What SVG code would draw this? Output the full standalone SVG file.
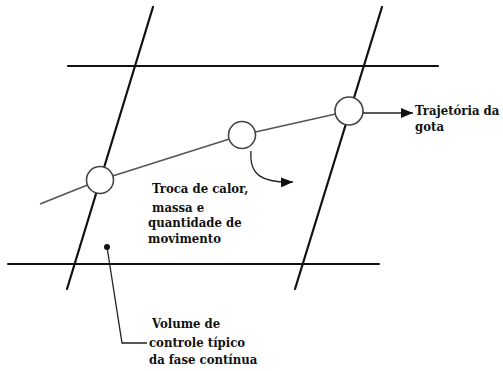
<svg xmlns="http://www.w3.org/2000/svg" width="503" height="371" viewBox="0 0 503 371">
<style>
.grid{stroke:#111;stroke-width:2.2;fill:none;stroke-linecap:round}
.traj{stroke:#555;stroke-width:1.6;fill:none}
.drop{fill:#fff;stroke:#444;stroke-width:1.6}
.lead{stroke:#222;stroke-width:1.3;fill:none}
.lbl{font-family:"DejaVu Serif Condensed","DejaVu Serif",serif;font-stretch:condensed;font-weight:bold;font-size:13px;fill:#111}
</style>
<defs>
<marker id="ah" viewBox="0 0 12 10" refX="12" refY="5" markerWidth="12" markerHeight="10" markerUnits="userSpaceOnUse" orient="auto">
<path d="M0,0 L12,5 L0,10 Z" fill="#111"/>
</marker>
</defs>
<g id="grid">
<line class="grid" x1="153" y1="7" x2="67" y2="289"/>
<line class="grid" x1="382" y1="7" x2="295" y2="289"/>
<line class="grid" x1="68" y1="66" x2="438" y2="66"/>
<line class="grid" x1="8" y1="264" x2="379" y2="264"/>
</g>
<g id="connectors">
<polyline class="traj" points="40,204 100,180 242,135 349,111"/>
<line class="lead" x1="363" y1="113" x2="413" y2="113" marker-end="url(#ah)"/>
<path class="lead" d="M251,151 C249,175 262,183 293,182" marker-end="url(#ah)"/>
<polyline class="lead" points="107,247 122,343 147,343"/>
</g>
<g id="drop1"><circle class="drop" cx="100" cy="180" r="13.5"/></g>
<g id="drop2"><circle class="drop" cx="242" cy="135" r="13.5"/></g>
<g id="drop3"><circle class="drop" cx="349" cy="111" r="14"/></g>
<g id="cv-point"><circle cx="107" cy="247" r="3" fill="#111"/></g>
<g id="label-traj">
<text class="lbl" x="415" y="115">Trajetória da</text>
<text class="lbl" x="415" y="131">gota</text>
</g>
<g id="label-troca">
<text class="lbl" x="152" y="193">Troca de calor,</text>
<text class="lbl" x="152" y="212">massa e</text>
<text class="lbl" x="148" y="227">quantidade de</text>
<text class="lbl" x="148" y="243">movimento</text>
</g>
<g id="label-volume">
<text class="lbl" x="152" y="328">Volume de</text>
<text class="lbl" x="149" y="347">controle típico</text>
<text class="lbl" x="149" y="364">da fase contínua</text>
</g>
</svg>
